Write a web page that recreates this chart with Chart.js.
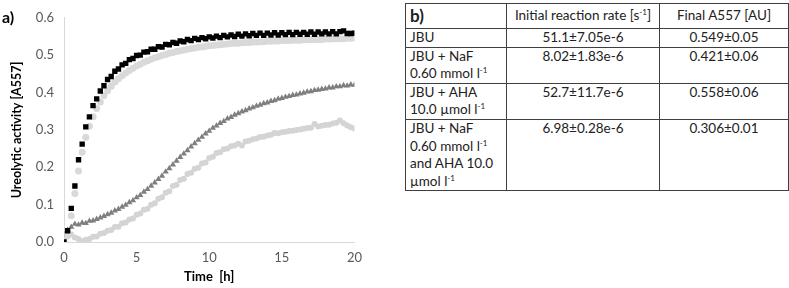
<!DOCTYPE html>
<html>
<head>
<meta charset="utf-8">
<script src="https://cdn.jsdelivr.net/npm/chart.js@4"></script>
<style>
  body { margin: 0; width: 789px; height: 288px; background: #fff; position: relative; overflow: hidden; font-family: Lato, "Open Sans", sans-serif; }
  #chartBox { position: absolute; left: 0; top: 0; width: 370px; height: 288px; }
  #panelA { position: absolute; left: 2px; top: 7px; font-weight: bold; font-size: 16px; color: #000; }
  table { position: absolute; left: 405px; top: 3px; border-collapse: collapse; font-size: 13.5px; color: #222; }
  td { border: 1px solid #3f3f3f; padding: 0 4px; line-height: 17.6px; vertical-align: top; }
  td.c { text-align: center; }
  tr.h td { height: 24px; vertical-align: middle; }
  sup { font-size: 8px; vertical-align: 5px; line-height: 0; }
</style>
</head>
<body>
<div id="chartBox"><canvas id="c" width="370" height="288"></canvas></div>
<div id="panelA">a)</div>
<table>
  <colgroup><col style="width:101px"><col style="width:153px"><col style="width:129px"></colgroup>
  <tr class="h"><td style="font-weight:bold;font-size:17px">b)</td><td class="c">Initial reaction rate [s<sup>-1</sup>]</td><td class="c">Final A557 [AU]</td></tr>
  <tr><td>JBU</td><td class="c">51.1±7.05e-6</td><td class="c">0.549±0.05</td></tr>
  <tr><td>JBU + NaF<br>0.60 mmol l<sup>-1</sup></td><td class="c">8.02±1.83e-6</td><td class="c">0.421±0.06</td></tr>
  <tr><td>JBU + AHA<br>10.0 µmol l<sup>-1</sup></td><td class="c">52.7±11.7e-6</td><td class="c">0.558±0.06</td></tr>
  <tr><td>JBU + NaF<br>0.60 mmol l<sup>-1</sup><br>and AHA 10.0<br>µmol l<sup>-1</sup></td><td class="c">6.98±0.28e-6</td><td class="c">0.306±0.01</td></tr>
</table>
<script>
const timeH = [0,0.25,0.5,0.75,1,1.25,1.5,1.75,2,2.25,2.5,2.75,3,3.25,3.5,3.75,4,4.25,4.5,4.75,
  5,5.25,5.5,5.75,6,6.25,6.5,6.75,7,7.25,7.5,7.75,8,8.25,8.5,8.75,9,9.25,9.5,9.75,
  10,10.25,10.5,10.75,11,11.25,11.5,11.75,12,12.25,12.5,12.75,13,13.25,13.5,13.75,14,14.25,14.5,14.75,
  15,15.25,15.5,15.75,16,16.25,16.5,16.75,17,17.25,17.5,17.75,18,18.25,18.5,18.75,19,19.25,19.5,19.75,20];

// JBU (black squares)
const jbu = [0.000,0.030,0.090,0.150,0.220,0.262,0.308,0.335,0.365,0.383,0.404,0.418,0.435,0.443,0.457,0.463,0.474,0.478,0.488,0.491,
  0.499,0.500,0.508,0.509,0.516,0.516,0.523,0.522,0.529,0.528,0.534,0.532,0.538,0.536,0.542,0.539,0.545,0.542,0.547,0.544,
  0.549,0.546,0.551,0.547,0.553,0.549,0.554,0.550,0.556,0.551,0.557,0.552,0.558,0.553,0.559,0.553,0.559,0.554,0.560,0.554,
  0.560,0.555,0.561,0.555,0.561,0.556,0.561,0.556,0.562,0.556,0.562,0.557,0.562,0.557,0.563,0.557,0.563,0.565,0.558,0.558,0.559];

// JBU + AHA (light grey band)
const jbuAha = [0.000,0.020,0.070,0.130,0.190,0.240,0.280,0.310,0.335,0.357,0.375,0.392,0.405,0.417,0.428,0.437,0.445,0.452,0.459,0.465,
  0.471,0.476,0.481,0.485,0.489,0.493,0.496,0.499,0.502,0.505,0.507,0.510,0.512,0.514,0.516,0.518,0.519,0.521,0.522,0.524,
  0.525,0.526,0.527,0.528,0.529,0.530,0.531,0.532,0.532,0.533,0.534,0.534,0.535,0.535,0.536,0.536,0.537,0.537,0.538,0.538,
  0.539,0.539,0.539,0.540,0.540,0.540,0.541,0.541,0.541,0.542,0.542,0.542,0.543,0.543,0.543,0.544,0.544,0.544,0.545,0.545,0.546];

// JBU + NaF (dark grey triangles)
const jbuNaf = [0.020,0.032,0.040,0.048,0.046,0.051,0.050,0.056,0.057,0.061,0.065,0.069,0.074,0.078,0.084,0.088,0.094,0.099,0.106,0.111,
  0.119,0.125,0.134,0.141,0.150,0.159,0.168,0.177,0.188,0.197,0.207,0.217,0.227,0.236,0.245,0.255,0.264,0.273,0.281,0.290,
  0.297,0.305,0.311,0.318,0.323,0.330,0.334,0.340,0.344,0.349,0.352,0.357,0.360,0.364,0.367,0.371,0.373,0.377,0.379,0.383,
  0.385,0.388,0.390,0.393,0.394,0.397,0.399,0.402,0.403,0.406,0.407,0.409,0.410,0.413,0.413,0.416,0.416,0.419,0.418,0.421,0.420];

// JBU + NaF + AHA (light grey dots)
const jbuNafAha = [0.005,0.015,0.020,0.012,0.008,0.002,0.006,0.008,0.014,0.015,0.022,0.024,0.030,0.032,0.040,0.041,0.050,0.052,0.060,0.063,
  0.073,0.076,0.086,0.089,0.100,0.104,0.116,0.120,0.132,0.136,0.150,0.153,0.166,0.169,0.182,0.185,0.196,0.199,0.210,0.213,
  0.225,0.228,0.238,0.240,0.248,0.250,0.256,0.258,0.263,0.258,0.269,0.271,0.275,0.277,0.281,0.282,0.285,0.287,0.292,0.291,
  0.294,0.295,0.297,0.298,0.300,0.301,0.303,0.305,0.306,0.316,0.309,0.311,0.313,0.314,0.317,0.319,0.325,0.318,0.312,0.307,0.304];

const xTicks = [0, 5, 10, 15, 20];
const yTicks = [0, 0.1, 0.2, 0.3, 0.4, 0.5, 0.6];

const pts = (ys) => ys.map((y, i) => ({ x: timeH[i], y: y }));

new Chart(document.getElementById('c').getContext('2d'), {
  type: 'scatter',
  data: {
    datasets: [
      { label: 'JBU', data: pts(jbu), pointStyle: 'rect', pointRadius: 3.8, backgroundColor: '#000', borderWidth: 0, order: 0 },
      { label: 'JBU + AHA', data: pts(jbuAha), pointStyle: 'circle', pointRadius: 3.5, backgroundColor: '#d9d9d9', borderWidth: 0, order: 1 },
      { label: 'JBU + NaF', data: pts(jbuNaf), pointStyle: 'triangle', pointRadius: 3.6, backgroundColor: '#7f7f7f', borderWidth: 0, order: 2 },
      { label: 'JBU + NaF + AHA', data: pts(jbuNafAha), pointStyle: 'circle', pointRadius: 3, backgroundColor: '#d4d4d4', borderWidth: 0, order: 3 }
    ]
  },
  options: {
    responsive: false,
    animation: false,
    layout: { padding: { top: 7, right: 14, left: 0, bottom: 0 } },
    plugins: { legend: { display: false }, tooltip: { enabled: false } },
    scales: {
      x: {
        type: 'linear', min: 0, max: 20,
        afterBuildTicks: (s) => { s.ticks = xTicks.map(v => ({ value: v })); },
        afterFit: (s) => { s.height = 46; },
        grid: { display: false, drawTicks: false },
        border: { display: true, color: '#d9d9d9', width: 1 },
        ticks: { color: '#595959', font: { family: 'Lato', size: 13 }, padding: 8 },
        title: { display: true, text: 'Time  [h]', color: '#000', font: { family: 'Lato', size: 13, weight: 'bold' }, padding: { top: 0, bottom: 3 } }
      },
      y: {
        min: 0, max: 0.6,
        afterBuildTicks: (s) => { s.ticks = yTicks.map(v => ({ value: v })); },
        afterFit: (s) => { s.width = 64; },
        grid: { display: false, drawTicks: false },
        border: { display: true, color: '#d9d9d9', width: 1 },
        ticks: { color: '#595959', font: { family: 'Lato', size: 13 }, padding: 10, callback: (v) => Number(v).toFixed(1) },
        title: { display: true, text: 'Ureolytic activity [A557]', color: '#000', font: { family: 'Lato', size: 12.5, weight: 'bold' }, padding: { top: 9, bottom: 0 } }
      }
    }
  }
});
</script>
</body>
</html>
